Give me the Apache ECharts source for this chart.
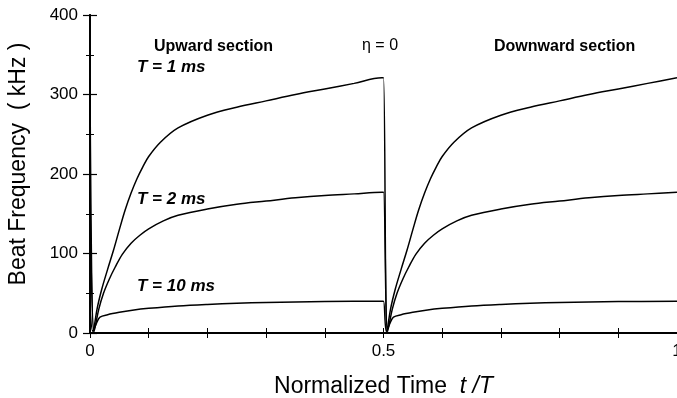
<!DOCTYPE html>
<html>
<head>
<meta charset="utf-8">
<script src="https://cdn.jsdelivr.net/npm/echarts@6/dist/echarts.min.js"></script>
<style>
  html, body { margin: 0; padding: 0; background: #fff; }
  #chart { width: 677px; height: 398px; }
</style>
</head>
<body>
<div id="chart"></div>
<script>
// normalized time t/T, upward section (0..0.5)
const tUp1 = [0, 0.006, 0.012, 0.02, 0.03, 0.04, 0.05, 0.06, 0.07, 0.08, 0.09, 0.1, 0.12, 0.15, 0.2, 0.25, 0.3, 0.35, 0.4, 0.45, 0.497];
const fUp1 = [320, 2, 30, 55, 80, 104, 130, 155, 176, 194, 209, 222, 240, 258, 274, 284, 292, 300, 307, 314, 321];

const tUp2 = [0, 0.007, 0.015, 0.023, 0.033, 0.043, 0.055, 0.07, 0.085, 0.1, 0.125, 0.15, 0.2, 0.25, 0.3, 0.35, 0.4, 0.45, 0.497];
const fUp2 = [177, 2, 30, 50, 68, 83, 99, 113, 123, 131, 141, 148, 156, 162, 166, 170, 173, 175, 177];

const tUp10 = [0, 0.005, 0.012, 0.017, 0.03, 0.05, 0.075, 0.1, 0.15, 0.2, 0.25, 0.3, 0.4, 0.497];
const fUp10 = [40, 2, 14, 20, 23, 26, 29, 31, 34, 36, 37.5, 38.5, 39.5, 40];

// downward section (0.5..1)
const tDn1 = [0.5, 0.506, 0.512, 0.52, 0.53, 0.54, 0.55, 0.56, 0.57, 0.58, 0.59, 0.6, 0.62, 0.65, 0.7, 0.75, 0.8, 0.85, 0.9, 0.95, 1.0];
const fDn1 = [321, 2, 30, 55, 80, 104, 130, 155, 176, 194, 209, 222, 240, 258, 274, 284, 292, 300, 307, 314, 321];

const tDn2 = [0.5, 0.507, 0.515, 0.523, 0.533, 0.543, 0.555, 0.57, 0.585, 0.6, 0.625, 0.65, 0.7, 0.75, 0.8, 0.85, 0.9, 0.95, 1.0];
const fDn2 = [177, 2, 30, 50, 68, 83, 99, 113, 123, 131, 141, 148, 156, 162, 166, 170, 173, 175, 177];

const tDn10 = [0.5, 0.505, 0.512, 0.517, 0.53, 0.55, 0.575, 0.6, 0.65, 0.7, 0.75, 0.8, 0.9, 1.0];
const fDn10 = [40, 2, 14, 20, 23, 26, 29, 31, 34, 36, 37.5, 38.5, 39.5, 40];

const xLabels = [0, 0.5, 1];
const seriesNames = ['T = 1 ms', 'T = 2 ms', 'T = 10 ms'];

function pairs(ts, fs) {
  return ts.map((t, i) => [t, fs[i]]);
}

const curves = [
  pairs(tUp1, fUp1).concat(pairs(tDn1, fDn1)),
  pairs(tUp2, fUp2).concat(pairs(tDn2, fDn2)),
  pairs(tUp10, fUp10).concat(pairs(tDn10, fDn10)),
];

const chart = echarts.init(document.getElementById('chart'), null, { renderer: 'canvas' });

const axisLine = { show: true, lineStyle: { color: '#000', width: 1.8 } };
const FONT = 'Liberation Sans, Arial, sans-serif';

const option = {
  backgroundColor: '#fff',
  animation: false,
  grid: { left: 90, right: 0, top: 15, bottom: 65, outerBoundsMode: 'none' },
  xAxis: [{
    type: 'value', min: 0, max: 1, interval: 0.1,
    axisLine, splitLine: { show: false },
    axisTick: { inside: true, length: 5, lineStyle: { color: '#000', width: 1 } },
    axisLabel: {
      color: '#000', fontSize: 17, fontFamily: FONT, margin: 10, showMaxLabel: true,
      formatter: v => xLabels.some(l => Math.abs(l - v) < 1e-6) ? String(+v.toFixed(1)) : ''
    },
    name: 'Normalized Time  {i|t /T}',
    nameLocation: 'middle', nameGap: 42,
    nameTextStyle: {
      color: '#000', fontSize: 23, fontFamily: FONT,
      rich: { i: { fontSize: 23, fontStyle: 'italic', fontFamily: FONT, color: '#000' } }
    }
  }, {
    type: 'value', min: 0, max: 1, interval: 0.1, position: 'top',
    axisLine, splitLine: { show: false }, axisLabel: { show: false },
    axisTick: { inside: true, length: 5, lineStyle: { color: '#000', width: 1 } }
  }],
  yAxis: [{
    type: 'value', min: 0, max: 400, interval: 100,
    axisLine, splitLine: { show: false },
    axisTick: { inside: true, length: 7, lineStyle: { color: '#000', width: 1.2 } },
    minorTick: { show: true, splitNumber: 2, length: 4, lineStyle: { color: '#000', width: 1 } },
    axisLabel: { color: '#000', fontSize: 17, fontFamily: FONT, margin: 12 },
    name: 'Beat Frequency  ( kHz )',
    nameLocation: 'middle', nameGap: 60, nameRotate: 90,
    nameTextStyle: { color: '#000', fontSize: 23, fontFamily: FONT, padding: [0, 0, 0, 20] }
  }, {
    type: 'value', min: 0, max: 400, interval: 100, position: 'right',
    axisLine, splitLine: { show: false }, axisLabel: { show: false },
    axisTick: { inside: true, length: 7, lineStyle: { color: '#000', width: 1.2 } },
    minorTick: { show: true, splitNumber: 2, length: 4, lineStyle: { color: '#000', width: 1 } }
  }],
  series: curves.map((d, i) => ({
    name: seriesNames[i],
    type: 'line',
    data: d,
    showSymbol: false,
    smooth: 0.35,
    lineStyle: { color: '#000', width: 1.5 },
    z: 3
  })),
  graphic: [
    { type: 'text', left: 154, top: 39, style: { text: 'Upward section', font: 'bold 16px ' + FONT, fill: '#000' } },
    { type: 'text', left: 362, top: 38, style: { text: 'η = 0', font: '16px ' + FONT, fill: '#000' } },
    { type: 'text', left: 494, top: 39, style: { text: 'Downward section', font: 'bold 16px ' + FONT, fill: '#000' } },
    { type: 'text', left: 137, top: 59, style: { text: seriesNames[0], font: 'italic bold 17px ' + FONT, fill: '#000' } },
    { type: 'text', left: 137, top: 191, style: { text: seriesNames[1], font: 'italic bold 17px ' + FONT, fill: '#000' } },
    { type: 'text', left: 137, top: 278, style: { text: seriesNames[2], font: 'italic bold 17px ' + FONT, fill: '#000' } }
  ]
};

chart.setOption(option);
</script>
</body>
</html>
